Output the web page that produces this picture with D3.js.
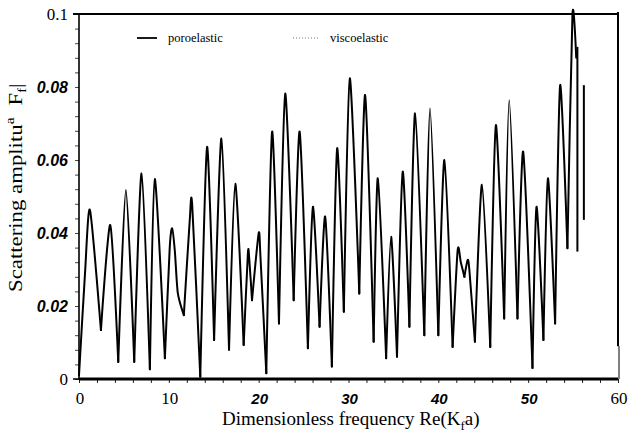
<!DOCTYPE html>
<html><head><meta charset="utf-8">
<script src="https://cdn.jsdelivr.net/npm/d3@7"></script>
<style>
body{margin:0;background:#fff}
svg{display:block}
.serif{font-family:"Liberation Serif","Times New Roman",serif}
.isans{font-family:"Liberation Sans",Arial,sans-serif;font-style:italic}
</style></head>
<body><svg id="svg" width="628" height="434"></svg>
<script>
// poroelastic curve (peaks, troughs and shoulders)
const freq = [0, 0.67, 1.22, 2.44, 3.48, 4.37, 5.22, 6.15, 6.96, 7.89, 8.44, 9.56, 10.1, 10.37, 10.67, 11.0, 11.67,
  12.33, 12.6, 13.5, 14.26, 15.04, 15.85, 16.7, 17.4, 18.33, 18.8, 18.95, 19.26, 20.0, 20.2, 20.85, 21.5, 22.26,
  22.96, 23.9, 24.56, 25.48, 26.04, 26.78, 27.4, 28.15, 28.74, 29.48, 30.15, 31.2, 31.85, 32.8, 33.26, 34.19,
  34.74, 35.4, 36.04, 36.78, 37.41, 38.44, 39.07, 40.0, 40.67, 41.59, 42.15, 42.5, 42.9, 43.26, 43.45, 44.07,
  44.85, 45.78, 46.41, 47.33, 47.89, 48.81, 49.44, 50.48, 50.93, 51.7, 52.2, 53.0, 53.56, 54.37, 54.93, 55.35];
const amp = [0.001, 0.029, 0.0463, 0.0134, 0.0422, 0.0047, 0.0518, 0.0047, 0.0563, 0.0027, 0.0548, 0.0057, 0.036,
  0.0413, 0.035, 0.0235, 0.0175, 0.0436, 0.0477, 0.0006, 0.0636, 0.0107, 0.0659, 0.008, 0.0535, 0.0093, 0.0344,
  0.033, 0.0216, 0.0399, 0.0335, 0.0016, 0.0678, 0.0152, 0.0782, 0.0216, 0.0678, 0.0084, 0.0472, 0.0143, 0.0445,
  0.0034, 0.0632, 0.0184, 0.0824, 0.0234, 0.0778, 0.0102, 0.055, 0.0057, 0.039, 0.0061, 0.0568, 0.0143, 0.0728,
  0.012, 0.0741, 0.012, 0.060, 0.0088, 0.0353, 0.032, 0.028, 0.0326, 0.030, 0.0102, 0.0532, 0.0088, 0.0696,
  0.0166, 0.0764, 0.0166, 0.0623, 0.003, 0.0472, 0.0107, 0.055, 0.0152, 0.0805, 0.0358, 0.0999, 0.088];
// stray vertical strokes at the end of the trace
const tailX = [55.48, 56.2];
const tailTop = [0.091, 0.0805];
const tailBottom = [0.0349, 0.0436];

const xTicks = [0, 10, 20, 30, 40, 50, 60];
const yTicks = [0, 0.02, 0.04, 0.06, 0.08, 0.1];
const yTickText = ['0', '0.02', '0.04', '0.06', '0.08', '0.1'];
const seriesNames = ['poroelastic', 'viscoelastic'];

const svg = d3.select('#svg');
const x = d3.scaleLinear().domain([0, 60]).range([79, 618]);
const y = d3.scaleLinear().domain([0, 0.1]).range([379, 14]);

// minor ticks
svg.append('g').attr('transform', `translate(0,${y(0)})`)
  .call(d3.axisBottom(x).tickValues(d3.range(0, 61, 2)).tickSize(4).tickFormat(''))
  .call(g => g.select('.domain').remove())
  .call(g => g.selectAll('line').attr('stroke', '#222').attr('stroke-width', 1));
svg.append('g').attr('transform', `translate(${x(0)},0)`)
  .call(d3.axisLeft(y).tickValues(d3.range(0, 0.1001, 0.004)).tickSize(4).tickFormat(''))
  .call(g => g.select('.domain').remove())
  .call(g => g.selectAll('line').attr('stroke', '#444').attr('stroke-width', 1));

// frame
const frame = svg.append('g').attr('stroke', '#000').attr('fill', 'none');
frame.append('line').attr('x1', x(0)).attr('x2', x(60)).attr('y1', y(0)).attr('y2', y(0)).attr('stroke-width', 3);
frame.append('line').attr('x1', x(0)).attr('x2', x(0)).attr('y1', y(0)).attr('y2', y(0.1)).attr('stroke-width', 1.6);
frame.append('line').attr('x1', x(0) - 6).attr('x2', x(60)).attr('y1', y(0.1)).attr('y2', y(0.1)).attr('stroke-width', 2);
frame.append('line').attr('x1', x(60)).attr('x2', x(60)).attr('y1', y(0.1) - 2).attr('y2', y(0.009)).attr('stroke-width', 2);
frame.append('line').attr('x1', x(60) + 1).attr('x2', x(60) + 1).attr('y1', y(0.009)).attr('y2', y(0)).attr('stroke-width', 1);
frame.append('line').attr('x1', x(0) - 6).attr('x2', x(0)).attr('y1', y(0)).attr('y2', y(0)).attr('stroke-width', 1.5);

// tick labels
const serifX = new Set([0, 10, 60]);
svg.append('g').selectAll('text').data(xTicks).join('text')
  .attr('class', d => serifX.has(d) ? 'serif' : 'isans')
  .attr('x', d => x(d) + 1).attr('y', 404)
  .attr('text-anchor', 'middle')
  .attr('font-size', d => serifX.has(d) ? 17 : 15)
  .attr('font-weight', d => serifX.has(d) ? 400 : 600)
  .text(d => d);
svg.append('g').selectAll('text').data(yTicks).join('text')
  .attr('class', (d, i) => (i === 0 || i === 5) ? 'serif' : 'isans')
  .attr('x', 68).attr('y', d => y(d) + 6)
  .attr('text-anchor', 'end')
  .attr('font-size', (d, i) => (i === 0 || i === 5) ? 17 : 16)
  .attr('font-weight', (d, i) => (i === 0 || i === 5) ? 400 : 600)
  .text((d, i) => yTickText[i]);

// curve: one smooth arc per lobe, so the lobes meet in sharp notches
const pts = freq.map((f, i) => [f, amp[i]]);
const cuts = [0];
for (let i = 1; i < pts.length - 1; i++) {
  if (pts[i][1] < pts[i - 1][1] && pts[i][1] < pts[i + 1][1]) cuts.push(i);
}
cuts.push(pts.length - 1);
const lobes = d3.pairs(cuts).map(([a, b]) => pts.slice(a, b + 1));
const line = d3.line().x(d => x(d[0])).y(d => y(d[1])).curve(d3.curveCardinal.tension(0.3));
svg.append('g').selectAll('path').data(lobes).join('path')
  .attr('fill', 'none').attr('stroke', '#000').attr('stroke-width', 2)
  .attr('stroke-linejoin', 'round').attr('stroke-linecap', 'round')
  .attr('d', line);
svg.append('g').selectAll('line').data(tailX).join('line')
  .attr('x1', d => x(d)).attr('x2', d => x(d))
  .attr('y1', (d, i) => y(tailTop[i])).attr('y2', (d, i) => y(tailBottom[i]))
  .attr('stroke', '#000').attr('stroke-width', 2);

// legend
const lg = svg.append('g');
lg.append('line').attr('x1', 137).attr('x2', 157).attr('y1', 38).attr('y2', 38).attr('stroke', '#000').attr('stroke-width', 1.8);
lg.append('line').attr('x1', 293).attr('x2', 319).attr('y1', 38).attr('y2', 38).attr('stroke', '#777').attr('stroke-width', 1).attr('stroke-dasharray', '1,2');
lg.selectAll('text').data(seriesNames).join('text')
  .attr('class', 'serif').attr('font-size', 12.5)
  .attr('x', (d, i) => i ? 330 : 168).attr('y', 42)
  .text(d => d);

// axis titles
const xt = svg.append('text').attr('class', 'serif').attr('font-size', 19)
  .attr('x', 222).attr('y', 425);
xt.append('tspan').text('Dimensionless frequency Re(K');
xt.append('tspan').attr('font-size', 13).attr('dy', 5).text('f');
xt.append('tspan').attr('dy', -5).text('a)');

const yt = svg.append('text').attr('class', 'serif').attr('font-size', 19)
  .attr('transform', 'translate(22,292) rotate(-90) scale(1.2,1)');
yt.append('tspan').text('Scattering amplitu');
yt.append('tspan').attr('font-size', 13).attr('dy', -8).text('a');
yt.append('tspan').attr('dy', 8).attr('dx', 10).text('F');
yt.append('tspan').attr('font-size', 12).attr('dy', 4).text('f');
yt.append('tspan').attr('dy', -4).text('|');
</script>
</body></html>
